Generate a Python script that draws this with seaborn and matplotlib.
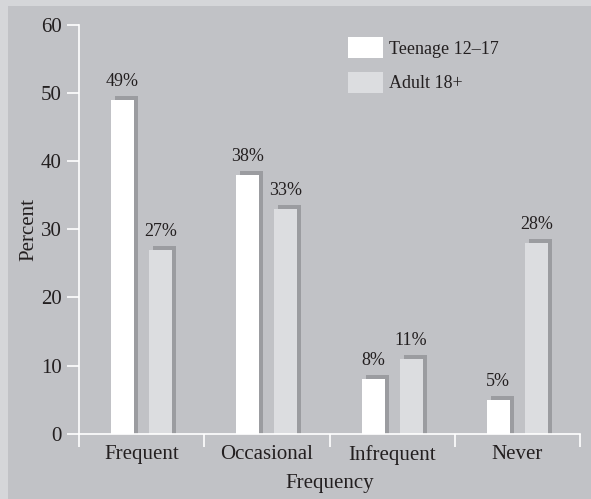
import matplotlib
matplotlib.use("Agg")
import matplotlib.pyplot as plt
import matplotlib.patheffects as pe
from matplotlib.patches import Rectangle
import seaborn as sns
import pandas as pd

categories = ["Frequent", "Occasional", "Infrequent", "Never"]
series_names = ["Teenage 12\u201317", "Adult 18+"]
teen_values = [49, 38, 8, 5]
adult_values = [27, 33, 11, 28]
y_ticks = [0, 10, 20, 30, 40, 50, 60]

df = pd.DataFrame({
    "Frequency": categories * 2,
    "Percent": teen_values + adult_values,
    "Group": [series_names[0]] * 4 + [series_names[1]] * 4,
})

BG = "#c1c2c6"
BORDER = "#d5d6d9"
SHADOW = "#9b9ca0"
TEXT = "#231f20"

sns.set_style("white")
plt.rcParams["font.family"] = ["Liberation Serif", "DejaVu Serif"]

fig = plt.figure(figsize=(5.91, 4.99), dpi=100, facecolor=BORDER)
fig.patches.append(Rectangle((8 / 591, 0), 1, 1 - 6 / 499, transform=fig.transFigure,
                             facecolor=BG, edgecolor="none", zorder=-10))
ax = fig.add_axes([79 / 591, (499 - 433.7) / 499, (580 - 79) / 591, (433.7 - 25) / 499])
ax.set_zorder(5)
ax.set_facecolor(BG)

sns.barplot(data=df, x="Frequency", y="Percent", hue="Group", order=categories,
            hue_order=series_names, palette=["#ffffff", "#dcdde0"], width=0.608, gap=0.395,
            saturation=1, ax=ax, edgecolor="none", linewidth=0, legend=True)

for p in ax.patches:
    p.set_path_effects([
        pe.SimplePatchShadow(offset=(2.9, 0), shadow_rgbFace=SHADOW, alpha=1.0),
        pe.SimplePatchShadow(offset=(2.9, 2.9), shadow_rgbFace=SHADOW, alpha=1.0),
        pe.Normal()])

for cont in ax.containers:
    for bar in cont:
        h = bar.get_height()
        ax.annotate(f"{h:.0f}%", (bar.get_x() + bar.get_width() / 2, h),
                    xytext=(0, 7), textcoords="offset points", ha="center", va="bottom",
                    fontsize=13, color=TEXT)

ax.set_ylim(0, 60)
ax.set_xlim(-0.5, 3.5)
ax.set_yticks(y_ticks)
ax.set_xticks(range(len(categories)))
ax.set_xticklabels(categories)
ax.set_xticks([-0.5, 0.5, 1.5, 2.5, 3.5], minor=True)
ax.tick_params(axis="x", which="major", bottom=True, length=0, labelsize=15, colors=TEXT, pad=8)
ax.tick_params(axis="x", which="minor", bottom=True, length=9, width=1.2, color="white",
               direction="out")
ax.tick_params(axis="y", left=True, length=8.5, width=1.2, color="white", labelsize=15,
               labelcolor=TEXT, pad=4)

for s in ["top", "right"]:
    ax.spines[s].set_visible(False)
for s in ["left", "bottom"]:
    ax.spines[s].set_color("white")
    ax.spines[s].set_linewidth(1.2)

ax.set_xlabel("Frequency", fontsize=15, color=TEXT, labelpad=7)
ax.set_ylabel("Percent", fontsize=15, color=TEXT, labelpad=2)

leg = ax.legend(loc="upper left", bbox_to_anchor=(0.537, 0.97), frameon=False, fontsize=13,
                handlelength=1.94, handleheight=1.4, labelspacing=0.76, handletextpad=0.35,
                borderpad=0, borderaxespad=0, labelcolor=TEXT)
for h in leg.legend_handles:
    h.set_path_effects([])

fig.savefig("out.png", dpi=100, facecolor=BORDER)
